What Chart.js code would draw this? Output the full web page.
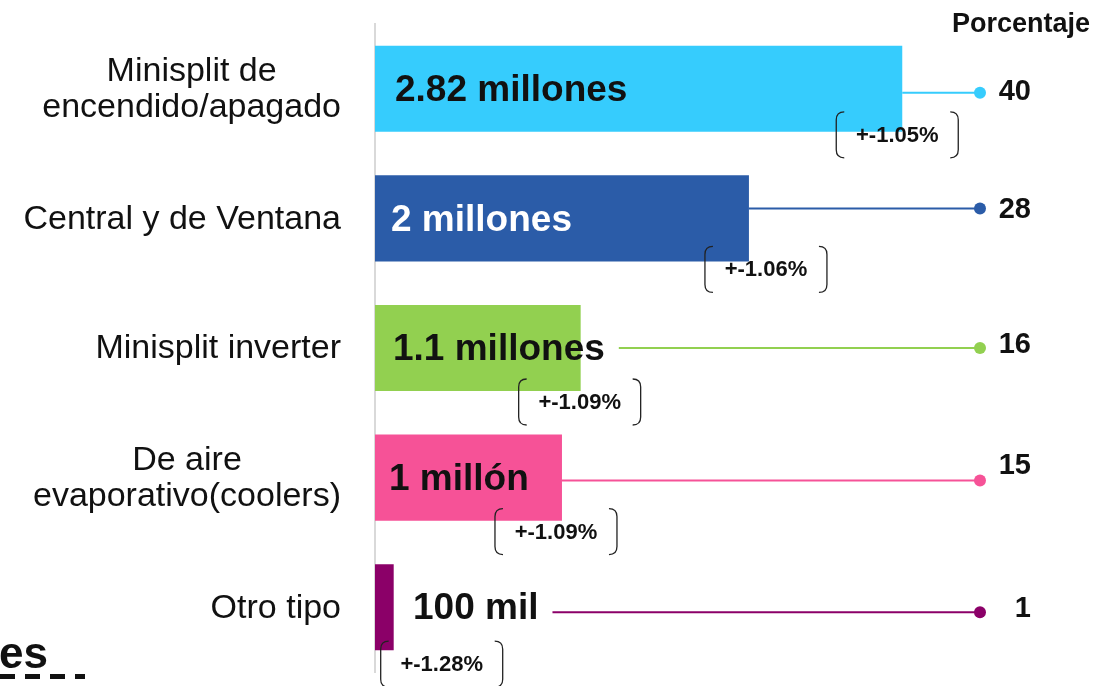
<!DOCTYPE html>
<html>
<head>
<meta charset="utf-8">
<script src="https://cdn.jsdelivr.net/npm/chart.js@4"></script>
<style>
  body { margin: 0; background: #fff; }
  #wrap { width: 1097px; height: 686px; }
</style>
</head>
<body>
<div id="wrap"><canvas id="myChart"></canvas></div>
<script>
// datos
const categorias = [["Minisplit de", "encendido/apagado"], "Central y de Ventana", "Minisplit inverter", ["De aire", "evaporativo(coolers)"], "Otro tipo"];
const millones = [2.82, 2, 1.1, 1, 0.1];
const etiquetas = ["2.82 millones", "2 millones", "1.1 millones", "1 millón", "100 mil"];
const porcentajes = [40, 28, 16, 15, 1];
const errores = ["+-1.05%", "+-1.06%", "+-1.09%", "+-1.09%", "+-1.28%"];
const colores = ["#36CCFD", "#2B5CA8", "#92D050", "#F65297", "#8B0068"];

const FONT = '"Liberation Sans", Arial, sans-serif';

// dibuja etiquetas, lineas, puntos y corchetes
const extras = {
  id: 'extras',
  afterDatasetsDraw(chart) {
    const ctx = chart.ctx;
    const meta = chart.getDatasetMeta(0);
    const yScale = chart.scales.y;
    const labelOffset = [20, 16, 18, 14, 38];
    const boxOffset = [-5, 17, -1, -6, 48];
    const boxDy = [46, 51, 54, 54, 57];
    const lineDy = [4, -10, 0, 3, 5];
    const pctDy = [3, -8, -3, -12, 2];
    const dotX = 980;
    ctx.save();

    // categorias: una linea a la derecha, varias lineas centradas entre si
    ctx.font = '34px ' + FONT;
    ctx.fillStyle = '#111';
    ctx.textBaseline = 'middle';
    ctx.textAlign = 'center';
    categorias.forEach((cat, i) => {
      const lines = Array.isArray(cat) ? cat : [cat];
      const yc = yScale.getPixelForTick(i);
      const blockW = Math.max(...lines.map(l => ctx.measureText(l).width));
      const cx = yScale.right - 34 - blockW / 2;
      lines.forEach((l, k) => {
        ctx.fillText(l, cx, yc + (k - (lines.length - 1) / 2) * 36 + 1);
      });
    });

    meta.data.forEach((bar, i) => {
      const y = bar.y;
      const x0 = bar.base;
      const x1 = bar.x;
      // texto en barra
      ctx.font = 'bold 37px ' + FONT;
      ctx.textAlign = 'left';
      ctx.textBaseline = 'middle';
      ctx.fillStyle = i === 1 ? '#fff' : '#111';
      const tx = x0 + labelOffset[i];
      ctx.fillText(etiquetas[i], tx, y + 2);
      const tEnd = tx + ctx.measureText(etiquetas[i]).width;
      // linea al punto
      const ly = y + lineDy[i];
      const lx = Math.max(x1, tEnd + 14);
      ctx.strokeStyle = colores[i];
      ctx.lineWidth = 2;
      ctx.beginPath();
      ctx.moveTo(lx, ly);
      ctx.lineTo(dotX, ly);
      ctx.stroke();
      ctx.fillStyle = colores[i];
      ctx.beginPath();
      ctx.arc(dotX, ly, 6, 0, Math.PI * 2);
      ctx.fill();
      // porcentaje
      ctx.font = 'bold 29px ' + FONT;
      ctx.textAlign = 'right';
      ctx.fillStyle = '#111';
      ctx.fillText(String(porcentajes[i]), 1031, y + pctDy[i]);
      // corchete con error
      const cx = x1 + boxOffset[i];
      const cy = y + boxDy[i];
      const w = 122, h = 46, r = 8;
      const L = cx - w / 2, R = cx + w / 2, T = cy - h / 2, B = cy + h / 2;
      ctx.strokeStyle = '#222';
      ctx.lineWidth = 1.3;
      ctx.beginPath();
      ctx.moveTo(L + r, T);
      ctx.quadraticCurveTo(L, T, L, T + r);
      ctx.lineTo(L, B - r);
      ctx.quadraticCurveTo(L, B, L + r, B);
      ctx.moveTo(R - r, T);
      ctx.quadraticCurveTo(R, T, R, T + r);
      ctx.lineTo(R, B - r);
      ctx.quadraticCurveTo(R, B, R - r, B);
      ctx.stroke();
      ctx.font = 'bold 22px ' + FONT;
      ctx.textAlign = 'center';
      ctx.fillStyle = '#111';
      ctx.fillText(errores[i], cx, cy + 1);
    });
    // titulo de porcentaje
    ctx.font = 'bold 27px ' + FONT;
    ctx.textAlign = 'right';
    ctx.fillStyle = '#111';
    ctx.fillText('Porcentaje', 1090, 25);
    // texto recortado abajo a la izquierda
    ctx.font = 'bold 44px ' + FONT;
    ctx.textAlign = 'left';
    ctx.textBaseline = 'alphabetic';
    ctx.fillText('es', -1, 668);
    ctx.strokeStyle = '#111';
    ctx.lineWidth = 5;
    ctx.setLineDash([15, 10]);
    ctx.beginPath();
    ctx.moveTo(0, 676.5);
    ctx.lineTo(85, 676.5);
    ctx.stroke();
    ctx.restore();
  }
};

new Chart(document.getElementById('myChart'), {
  type: 'bar',
  data: {
    labels: categorias,
    datasets: [{
      label: 'Millones',
      data: millones,
      backgroundColor: colores,
      categoryPercentage: 1,
      barPercentage: 0.664
    }]
  },
  options: {
    indexAxis: 'y',
    responsive: true,
    maintainAspectRatio: false,
    animation: false,
    layout: { padding: { top: 24, bottom: 14, left: 0, right: 105 } },
    plugins: { legend: { display: false }, tooltip: { enabled: false } },
    scales: {
      x: { display: false, min: 0, max: 3.3 },
      y: {
        afterFit(scale) {
          scale.width = 375;
          scale.paddingTop = 0;
          scale.paddingBottom = 0;
        },
        grid: { display: false, drawTicks: false },
        border: { display: true, color: '#d9d9d9', width: 2 },
        ticks: { display: false }
      }
    }
  },
  plugins: [extras]
});
</script>
</body>
</html>
